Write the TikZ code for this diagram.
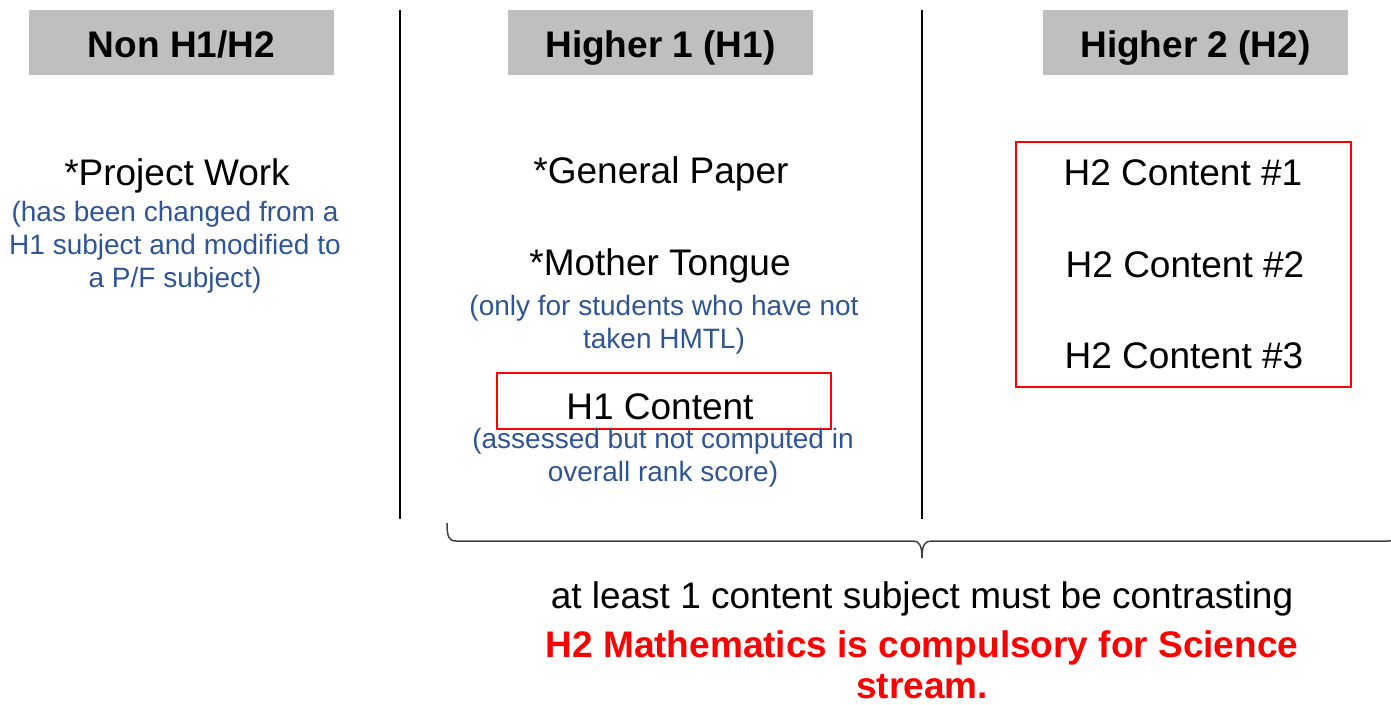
\documentclass[tikz,border=0pt]{standalone}
\usepackage{fontspec}
\setmainfont{Liberation Sans}
\definecolor{hdrgray}{RGB}{191,191,191}
\definecolor{noteblue}{RGB}{47,85,151}
\definecolor{pptred}{RGB}{255,0,0}
\begin{document}
\begin{tikzpicture}[x=1pt,y=-1pt,
  hdr/.style={fill=hdrgray,draw=none,minimum width=305pt,inner xsep=0pt,inner ysep=0pt,
    text height=47pt,text depth=18pt,font=\fontsize{37}{44}\selectfont\bfseries},
  item/.style={anchor=base,inner sep=0pt,font=\fontsize{37}{44}\selectfont},
  note/.style={anchor=north,inner sep=0pt,align=center,text=noteblue,font=\fontsize{28}{33}\selectfont},
  redbox/.style={draw=pptred,line width=2pt,inner sep=0pt},
  sepline/.style={line width=2pt,black},
  bracestroke/.style={line width=1.5pt,black!75},
  redbold/.style={anchor=base,inner sep=0pt,text=pptred,font=\fontsize{37}{44}\selectfont\bfseries}]
\useasboundingbox (0,0) rectangle (1391,704);
% headers
\node[hdr] (hA) at (181.5,42.5) {Non H1/H2};
\node[hdr] (hB) at (660.5,42.5) {Higher 1 (H1)};
\node[hdr] (hC) at (1195.5,42.5) {Higher 2 (H2)};
% separators
\coordinate (s1t) at (400,10); \coordinate (s1b) at (400,519);
\coordinate (s2t) at (922,10); \coordinate (s2b) at (922,519);
\draw[sepline] (s1t) -- (s1b);
\draw[sepline] (s2t) -- (s2b);
% column 1
\node[item] (pw) at (177,185) {*Project Work};
\node[note] (pwn) at (175,200.6) {(has been changed from a\\H1 subject and modified to\\a P/F subject)};
% column 2
\node[item] (gp) at (661,183) {*General Paper};
\node[item] (mt) at (660,275) {*Mother Tongue};
\node[note] (mtn) at (664,294.6) {(only for students who have not\\taken HMTL)};
\node[redbox,minimum width=334pt,minimum height=56pt] (h1c) at (664,401) {};
\node[item] (h1t) at (660,419) {H1 Content};
\node[note] (h1n) at (663,427.6) {(assessed but not computed in\\overall rank score)};
% column 3
\node[redbox,minimum width=335pt,minimum height=245pt] (h2box) at (1183.5,264.5) {};
\node[item] (c1) at (1183,185) {H2 Content \#1};
\node[item] (c2) at (1185,277) {H2 Content \#2};
\node[item] (c3) at (1184,368) {H2 Content \#3};
% brace
\coordinate (bL) at (447,523);
\coordinate (bT) at (922,558);
\coordinate (bR) at (1397,523);
\draw[bracestroke] (bL) .. controls (447,537) and (449,541) .. (456,541) -- (913,541) .. controls (919,541) and (922,545) .. (bT);
\draw[bracestroke] (bT) .. controls (922,545) and (925,541) .. (931,541) -- (1388,541) .. controls (1395,541) and (1397,537) .. (bR);
% bottom text
\node[item] (al) at (922,608) {at least 1 content subject must be contrasting};
\node[redbold] (m1) at (922,657) {H2 Mathematics is compulsory for Science};
\node[redbold] (m2) at (922,698) {stream.};
\end{tikzpicture}
\end{document}
